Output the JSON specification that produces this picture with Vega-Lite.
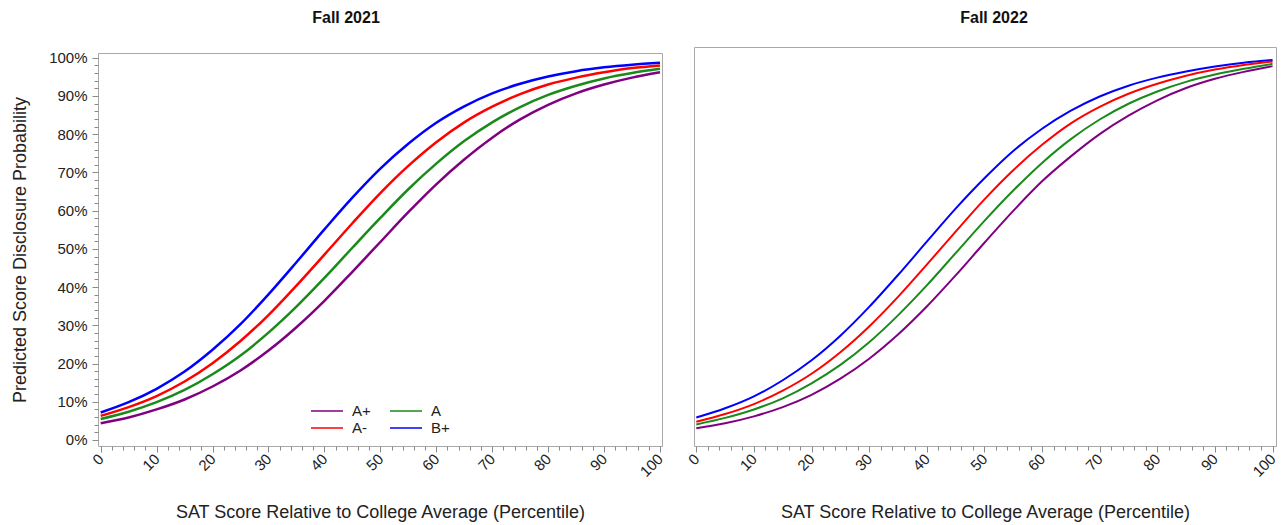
{
  "$schema": "https://vega.github.io/schema/vega-lite/v6.json",
  "padding": {"left": 11, "top": 9, "right": 2, "bottom": 5},
  "background": "white",
  "config": {
    "font": "Liberation Sans",
    "view": {"stroke": "#a8a8a8", "strokeWidth": 1},
    "axis": {"domain": false, "grid": false, "labelFontSize": 15, "labelColor": "#222222", "titleFontSize": 18, "titleFontWeight": "normal", "titleColor": "#222222", "tickColor": "#8a8a8a", "labelOverlap": false, "labelFlush": false},
    "title": {"fontSize": 16, "fontWeight": "bold", "color": "#111111"},
    "line": {"interpolate": "monotone"}
  },
  "datasets": {
    "curves": [
      {"panel":"Fall 2021","grade":"B+","x":0,"p":0.072},{"panel":"Fall 2021","grade":"B+","x":5,"p":0.099},{"panel":"Fall 2021","grade":"B+","x":10,"p":0.134},{"panel":"Fall 2021","grade":"B+","x":15,"p":0.179},{"panel":"Fall 2021","grade":"B+","x":20,"p":0.236},{"panel":"Fall 2021","grade":"B+","x":25,"p":0.303},{"panel":"Fall 2021","grade":"B+","x":30,"p":0.381},{"panel":"Fall 2021","grade":"B+","x":35,"p":0.465},{"panel":"Fall 2021","grade":"B+","x":40,"p":0.551},{"panel":"Fall 2021","grade":"B+","x":45,"p":0.634},{"panel":"Fall 2021","grade":"B+","x":50,"p":0.710},{"panel":"Fall 2021","grade":"B+","x":55,"p":0.775},{"panel":"Fall 2021","grade":"B+","x":60,"p":0.830},{"panel":"Fall 2021","grade":"B+","x":65,"p":0.873},{"panel":"Fall 2021","grade":"B+","x":70,"p":0.907},{"panel":"Fall 2021","grade":"B+","x":75,"p":0.932},{"panel":"Fall 2021","grade":"B+","x":80,"p":0.951},{"panel":"Fall 2021","grade":"B+","x":85,"p":0.965},{"panel":"Fall 2021","grade":"B+","x":90,"p":0.975},{"panel":"Fall 2021","grade":"B+","x":95,"p":0.982},{"panel":"Fall 2021","grade":"B+","x":100,"p":0.987},
      {"panel":"Fall 2021","grade":"A-","x":0,"p":0.063},{"panel":"Fall 2021","grade":"A-","x":5,"p":0.086},{"panel":"Fall 2021","grade":"A-","x":10,"p":0.115},{"panel":"Fall 2021","grade":"A-","x":15,"p":0.153},{"panel":"Fall 2021","grade":"A-","x":20,"p":0.201},{"panel":"Fall 2021","grade":"A-","x":25,"p":0.259},{"panel":"Fall 2021","grade":"A-","x":30,"p":0.327},{"panel":"Fall 2021","grade":"A-","x":35,"p":0.404},{"panel":"Fall 2021","grade":"A-","x":40,"p":0.485},{"panel":"Fall 2021","grade":"A-","x":45,"p":0.567},{"panel":"Fall 2021","grade":"A-","x":50,"p":0.646},{"panel":"Fall 2021","grade":"A-","x":55,"p":0.717},{"panel":"Fall 2021","grade":"A-","x":60,"p":0.779},{"panel":"Fall 2021","grade":"A-","x":65,"p":0.831},{"panel":"Fall 2021","grade":"A-","x":70,"p":0.872},{"panel":"Fall 2021","grade":"A-","x":75,"p":0.905},{"panel":"Fall 2021","grade":"A-","x":80,"p":0.930},{"panel":"Fall 2021","grade":"A-","x":85,"p":0.948},{"panel":"Fall 2021","grade":"A-","x":90,"p":0.962},{"panel":"Fall 2021","grade":"A-","x":95,"p":0.973},{"panel":"Fall 2021","grade":"A-","x":100,"p":0.980},
      {"panel":"Fall 2021","grade":"A","x":0,"p":0.055},{"panel":"Fall 2021","grade":"A","x":5,"p":0.074},{"panel":"Fall 2021","grade":"A","x":10,"p":0.099},{"panel":"Fall 2021","grade":"A","x":15,"p":0.131},{"panel":"Fall 2021","grade":"A","x":20,"p":0.172},{"panel":"Fall 2021","grade":"A","x":25,"p":0.221},{"panel":"Fall 2021","grade":"A","x":30,"p":0.281},{"panel":"Fall 2021","grade":"A","x":35,"p":0.349},{"panel":"Fall 2021","grade":"A","x":40,"p":0.424},{"panel":"Fall 2021","grade":"A","x":45,"p":0.503},{"panel":"Fall 2021","grade":"A","x":50,"p":0.581},{"panel":"Fall 2021","grade":"A","x":55,"p":0.656},{"panel":"Fall 2021","grade":"A","x":60,"p":0.723},{"panel":"Fall 2021","grade":"A","x":65,"p":0.782},{"panel":"Fall 2021","grade":"A","x":70,"p":0.831},{"panel":"Fall 2021","grade":"A","x":75,"p":0.871},{"panel":"Fall 2021","grade":"A","x":80,"p":0.903},{"panel":"Fall 2021","grade":"A","x":85,"p":0.927},{"panel":"Fall 2021","grade":"A","x":90,"p":0.946},{"panel":"Fall 2021","grade":"A","x":95,"p":0.960},{"panel":"Fall 2021","grade":"A","x":100,"p":0.971},
      {"panel":"Fall 2021","grade":"A+","x":0,"p":0.044},{"panel":"Fall 2021","grade":"A+","x":5,"p":0.059},{"panel":"Fall 2021","grade":"A+","x":10,"p":0.080},{"panel":"Fall 2021","grade":"A+","x":15,"p":0.106},{"panel":"Fall 2021","grade":"A+","x":20,"p":0.140},{"panel":"Fall 2021","grade":"A+","x":25,"p":0.182},{"panel":"Fall 2021","grade":"A+","x":30,"p":0.234},{"panel":"Fall 2021","grade":"A+","x":35,"p":0.295},{"panel":"Fall 2021","grade":"A+","x":40,"p":0.364},{"panel":"Fall 2021","grade":"A+","x":45,"p":0.440},{"panel":"Fall 2021","grade":"A+","x":50,"p":0.518},{"panel":"Fall 2021","grade":"A+","x":55,"p":0.596},{"panel":"Fall 2021","grade":"A+","x":60,"p":0.669},{"panel":"Fall 2021","grade":"A+","x":65,"p":0.734},{"panel":"Fall 2021","grade":"A+","x":70,"p":0.791},{"panel":"Fall 2021","grade":"A+","x":75,"p":0.839},{"panel":"Fall 2021","grade":"A+","x":80,"p":0.877},{"panel":"Fall 2021","grade":"A+","x":85,"p":0.907},{"panel":"Fall 2021","grade":"A+","x":90,"p":0.930},{"panel":"Fall 2021","grade":"A+","x":95,"p":0.948},{"panel":"Fall 2021","grade":"A+","x":100,"p":0.962},
      {"panel":"Fall 2022","grade":"B+","x":0,"p":0.062},{"panel":"Fall 2022","grade":"B+","x":5,"p":0.086},{"panel":"Fall 2022","grade":"B+","x":10,"p":0.117},{"panel":"Fall 2022","grade":"B+","x":15,"p":0.159},{"panel":"Fall 2022","grade":"B+","x":20,"p":0.211},{"panel":"Fall 2022","grade":"B+","x":25,"p":0.275},{"panel":"Fall 2022","grade":"B+","x":30,"p":0.350},{"panel":"Fall 2022","grade":"B+","x":35,"p":0.433},{"panel":"Fall 2022","grade":"B+","x":40,"p":0.520},{"panel":"Fall 2022","grade":"B+","x":45,"p":0.606},{"panel":"Fall 2022","grade":"B+","x":50,"p":0.685},{"panel":"Fall 2022","grade":"B+","x":55,"p":0.756},{"panel":"Fall 2022","grade":"B+","x":60,"p":0.814},{"panel":"Fall 2022","grade":"B+","x":65,"p":0.861},{"panel":"Fall 2022","grade":"B+","x":70,"p":0.898},{"panel":"Fall 2022","grade":"B+","x":75,"p":0.926},{"panel":"Fall 2022","grade":"B+","x":80,"p":0.947},{"panel":"Fall 2022","grade":"B+","x":85,"p":0.963},{"panel":"Fall 2022","grade":"B+","x":90,"p":0.976},{"panel":"Fall 2022","grade":"B+","x":95,"p":0.986},{"panel":"Fall 2022","grade":"B+","x":100,"p":0.993},
      {"panel":"Fall 2022","grade":"A-","x":0,"p":0.051},{"panel":"Fall 2022","grade":"A-","x":5,"p":0.071},{"panel":"Fall 2022","grade":"A-","x":10,"p":0.097},{"panel":"Fall 2022","grade":"A-","x":15,"p":0.132},{"panel":"Fall 2022","grade":"A-","x":20,"p":0.176},{"panel":"Fall 2022","grade":"A-","x":25,"p":0.232},{"panel":"Fall 2022","grade":"A-","x":30,"p":0.299},{"panel":"Fall 2022","grade":"A-","x":35,"p":0.376},{"panel":"Fall 2022","grade":"A-","x":40,"p":0.460},{"panel":"Fall 2022","grade":"A-","x":45,"p":0.546},{"panel":"Fall 2022","grade":"A-","x":50,"p":0.630},{"panel":"Fall 2022","grade":"A-","x":55,"p":0.706},{"panel":"Fall 2022","grade":"A-","x":60,"p":0.772},{"panel":"Fall 2022","grade":"A-","x":65,"p":0.828},{"panel":"Fall 2022","grade":"A-","x":70,"p":0.871},{"panel":"Fall 2022","grade":"A-","x":75,"p":0.905},{"panel":"Fall 2022","grade":"A-","x":80,"p":0.931},{"panel":"Fall 2022","grade":"A-","x":85,"p":0.952},{"panel":"Fall 2022","grade":"A-","x":90,"p":0.968},{"panel":"Fall 2022","grade":"A-","x":95,"p":0.980},{"panel":"Fall 2022","grade":"A-","x":100,"p":0.989},
      {"panel":"Fall 2022","grade":"A","x":0,"p":0.044},{"panel":"Fall 2022","grade":"A","x":5,"p":0.061},{"panel":"Fall 2022","grade":"A","x":10,"p":0.083},{"panel":"Fall 2022","grade":"A","x":15,"p":0.112},{"panel":"Fall 2022","grade":"A","x":20,"p":0.151},{"panel":"Fall 2022","grade":"A","x":25,"p":0.199},{"panel":"Fall 2022","grade":"A","x":30,"p":0.258},{"panel":"Fall 2022","grade":"A","x":35,"p":0.328},{"panel":"Fall 2022","grade":"A","x":40,"p":0.406},{"panel":"Fall 2022","grade":"A","x":45,"p":0.490},{"panel":"Fall 2022","grade":"A","x":50,"p":0.574},{"panel":"Fall 2022","grade":"A","x":55,"p":0.653},{"panel":"Fall 2022","grade":"A","x":60,"p":0.725},{"panel":"Fall 2022","grade":"A","x":65,"p":0.787},{"panel":"Fall 2022","grade":"A","x":70,"p":0.838},{"panel":"Fall 2022","grade":"A","x":75,"p":0.879},{"panel":"Fall 2022","grade":"A","x":80,"p":0.911},{"panel":"Fall 2022","grade":"A","x":85,"p":0.936},{"panel":"Fall 2022","grade":"A","x":90,"p":0.955},{"panel":"Fall 2022","grade":"A","x":95,"p":0.970},{"panel":"Fall 2022","grade":"A","x":100,"p":0.983},
      {"panel":"Fall 2022","grade":"A+","x":0,"p":0.034},{"panel":"Fall 2022","grade":"A+","x":5,"p":0.047},{"panel":"Fall 2022","grade":"A+","x":10,"p":0.065},{"panel":"Fall 2022","grade":"A+","x":15,"p":0.089},{"panel":"Fall 2022","grade":"A+","x":20,"p":0.121},{"panel":"Fall 2022","grade":"A+","x":25,"p":0.163},{"panel":"Fall 2022","grade":"A+","x":30,"p":0.215},{"panel":"Fall 2022","grade":"A+","x":35,"p":0.278},{"panel":"Fall 2022","grade":"A+","x":40,"p":0.351},{"panel":"Fall 2022","grade":"A+","x":45,"p":0.432},{"panel":"Fall 2022","grade":"A+","x":50,"p":0.517},{"panel":"Fall 2022","grade":"A+","x":55,"p":0.600},{"panel":"Fall 2022","grade":"A+","x":60,"p":0.677},{"panel":"Fall 2022","grade":"A+","x":65,"p":0.742},{"panel":"Fall 2022","grade":"A+","x":70,"p":0.800},{"panel":"Fall 2022","grade":"A+","x":75,"p":0.848},{"panel":"Fall 2022","grade":"A+","x":80,"p":0.888},{"panel":"Fall 2022","grade":"A+","x":85,"p":0.920},{"panel":"Fall 2022","grade":"A+","x":90,"p":0.944},{"panel":"Fall 2022","grade":"A+","x":95,"p":0.962},{"panel":"Fall 2022","grade":"A+","x":100,"p":0.977}
    ]
  },
  "data": {"name": "curves"},
  "resolve": {"legend": {"color": "independent"}},
  "spacing": 17,
  "hconcat": [
    {
      "spacing": 14,
      "resolve": {"legend": {"color": "independent"}},
      "vconcat": [
        {
          "data": {"values": [{"t": 1}]},
          "title": {"text": "Fall 2021", "offset": 4, "dx": -34},
          "width": 564,
          "height": 1,
          "view": {"stroke": null},
          "mark": {"type": "point", "opacity": 0},
          "encoding": {}
        },
        {
          "width": 564,
          "height": 393,
          "transform": [{"filter": "datum.panel === 'Fall 2021'"}],
          "mark": {"type": "line", "strokeWidth": 2.5},
          "encoding": {
            "x": {
              "field": "x", "type": "quantitative",
              "scale": {"domain": [-0.48, 100.36], "nice": false, "zero": false},
              "axis": {
                "title": "SAT Score Relative to College Average (Percentile)",
                "values": [0,2,4,6,8,10,12,14,16,18,20,22,24,26,28,30,32,34,36,38,40,42,44,46,48,50,52,54,56,58,60,62,64,66,68,70,72,74,76,78,80,82,84,86,88,90,92,94,96,98,100],
                "labelExpr": "datum.value % 10 === 0 ? datum.label : ''",
                "labelAngle": -45, "labelAlign": "right", "labelBaseline": "middle",
                "tickSize": {"condition": {"test": "datum.value % 10 === 0", "value": 6}, "value": 4},
                "labelPadding": 4, "titlePadding": 24
              }
            },
            "y": {
              "field": "p", "type": "quantitative",
              "scale": {"domain": [-0.0157, 1.0125], "nice": false, "zero": false},
              "axis": {
                "title": "Predicted Score Disclosure Probability",
                "values": [0,0.02,0.04,0.06,0.08,0.1,0.12,0.14,0.16,0.18,0.2,0.22,0.24,0.26,0.28,0.3,0.32,0.34,0.36,0.38,0.4,0.42,0.44,0.46,0.48,0.5,0.52,0.54,0.56,0.58,0.6,0.62,0.64,0.66,0.68,0.7,0.72,0.74,0.76,0.78,0.8,0.82,0.84,0.86,0.88,0.9,0.92,0.94,0.96,0.98,1.0],
                "format": ".0%",
                "labelExpr": "round(datum.value * 100) % 10 === 0 ? datum.label : ''",
                "tickSize": {"condition": {"test": "round(datum.value * 100) % 10 === 0", "value": 6}, "value": 4},
                "labelPadding": 5, "titlePadding": 19
              }
            },
            "color": {
              "field": "grade", "type": "nominal",
              "scale": {"domain": ["A+", "A", "A-", "B+"], "range": ["#800080", "#1a8a1a", "#ff0000", "#0000ff"]},
              "legend": {
                "title": null, "orient": "none", "legendX": 220, "legendY": 349,
                "columns": 2, "direction": "horizontal", "symbolType": "M-2,0H2", "symbolSize": 256, "symbolStrokeWidth": 1.5,
                "labelFontSize": 15, "labelColor": "#222222", "labelOffset": 16, "columnPadding": 16, "rowPadding": 0, "padding": 0
              }
            }
          }
        }
      ]
    },
    {
      "spacing": 10,
      "vconcat": [
        {
          "data": {"values": [{"t": 1}]},
          "title": {"text": "Fall 2022", "offset": 4, "dx": 9},
          "width": 582,
          "height": 1,
          "view": {"stroke": null},
          "mark": {"type": "point", "opacity": 0},
          "encoding": {}
        },
        {
          "width": 582,
          "height": 399,
          "transform": [{"filter": "datum.panel === 'Fall 2022'"}],
          "mark": {"type": "line", "strokeWidth": 2},
          "encoding": {
            "x": {
              "field": "x", "type": "quantitative",
              "scale": {"domain": [-0.4, 100.6], "nice": false, "zero": false},
              "axis": {
                "title": "SAT Score Relative to College Average (Percentile)",
                "values": [0,2,4,6,8,10,12,14,16,18,20,22,24,26,28,30,32,34,36,38,40,42,44,46,48,50,52,54,56,58,60,62,64,66,68,70,72,74,76,78,80,82,84,86,88,90,92,94,96,98,100],
                "labelExpr": "datum.value % 10 === 0 ? datum.label : ''",
                "labelAngle": -45, "labelAlign": "right", "labelBaseline": "middle",
                "tickSize": {"condition": {"test": "datum.value % 10 === 0", "value": 6}, "value": 4},
                "labelPadding": 4, "titlePadding": 24
              }
            },
            "y": {
              "field": "p", "type": "quantitative",
              "scale": {"domain": [-0.0122, 1.0268], "nice": false, "zero": false},
              "axis": null
            },
            "color": {
              "field": "grade", "type": "nominal",
              "scale": {"domain": ["A+", "A", "A-", "B+"], "range": ["#800080", "#1a8a1a", "#ff0000", "#0000ff"]},
              "legend": null
            }
          }
        }
      ]
    }
  ]
}
